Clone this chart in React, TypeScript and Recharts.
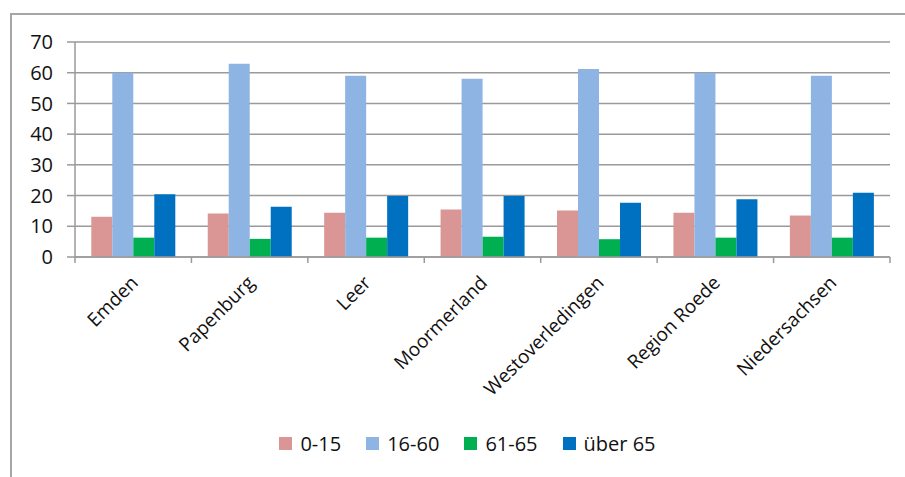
import React from "react";
import { BarChart, Bar, XAxis, YAxis, CartesianGrid, Legend } from "recharts";

// Anteil der Altersgruppen in Prozent
const regions = [
  "Emden",
  "Papenburg",
  "Leer",
  "Moormerland",
  "Westoverledingen",
  "Region Roede",
  "Niedersachsen",
];
const age0to15 = [13.1, 14.2, 14.4, 15.5, 15.1, 14.4, 13.5];
const age16to60 = [60, 62.9, 59, 58, 61.2, 60, 59];
const age61to65 = [6.3, 5.9, 6.3, 6.6, 5.8, 6.3, 6.3];
const ageOver65 = [20.4, 16.4, 19.9, 19.9, 17.7, 18.8, 20.9];
const yTicks = [0, 10, 20, 30, 40, 50, 60, 70];

const series = [
  { key: "a", name: "0-15", color: "#D99694", values: age0to15 },
  { key: "b", name: "16-60", color: "#8EB4E3", values: age16to60 },
  { key: "c", name: "61-65", color: "#00B050", values: age61to65 },
  { key: "d", name: "über 65", color: "#0070C0", values: ageOver65 },
];

const data = regions.map((name, i) => {
  const row: Record<string, string | number> = { name };
  series.forEach((s) => {
    row[s.key] = s.values[i];
  });
  return row;
});

const FONT = "'Open Sans', sans-serif";
const LINE = "#9a9a9a";

// Excel-style axis: tick marks between the categories, labels rotated
function CategoryTick(props: any) {
  const { x, y, payload, index } = props;
  const half = payload?.offset ?? 58.2;
  return (
    <g>
      <line x1={x - half} y1={y} x2={x - half} y2={y + 6} stroke={LINE} strokeWidth={1.5} />
      {index === regions.length - 1 && (
        <line x1={x + half} y1={y} x2={x + half} y2={y + 6} stroke={LINE} strokeWidth={1.5} />
      )}
      <text
        x={0}
        y={0}
        transform={`translate(${x + 6},${y + 27}) rotate(-45)`}
        textAnchor="end"
        fontSize={19}
        fontFamily={FONT}
        fill="#111"
      >
        {payload.value}
      </text>
    </g>
  );
}

function LegendContent() {
  return (
    <div
      style={{
        display: "flex",
        justifyContent: "center",
        alignItems: "center",
        gap: 25,
        fontFamily: FONT,
        fontSize: 20,
        color: "#111",
      }}
    >
      {series.map((s) => (
        <div key={s.key} style={{ display: "flex", alignItems: "center" }}>
          <span
            style={{
              display: "inline-block",
              width: 13,
              height: 13,
              background: s.color,
              marginRight: 8,
            }}
          />
          <span>{s.name}</span>
        </div>
      ))}
    </div>
  );
}

export default function App() {
  return (
    <div style={{ position: "absolute", left: 0, top: 0, width: 905, height: 477, background: "#fff" }}>
      <div
        style={{
          position: "absolute",
          left: 10,
          top: 13,
          width: 895,
          height: 464,
          borderTop: "2px solid #a6a6a6",
          borderLeft: "2px solid #a6a6a6",
          boxSizing: "border-box",
        }}
      />
      <div style={{ position: "absolute", left: 0, top: 0 }}>
        <BarChart
          width={905}
          height={477}
          data={data}
          margin={{ top: 42, right: 15, left: 0, bottom: 70 }}
          barCategoryGap="14%"
          barGap={0}
        >
          <CartesianGrid vertical={false} stroke={LINE} strokeWidth={1.5} />
          <XAxis
            dataKey="name"
            interval={0}
            height={150}
            tickSize={0}
            tickMargin={0}
            axisLine={{ stroke: LINE, strokeWidth: 1.5 }}
            tick={<CategoryTick />}
          />
          <YAxis
            width={75}
            domain={[0, 70]}
            ticks={yTicks}
            interval={0}
            tickSize={8}
            tickMargin={14}
            axisLine={{ stroke: LINE, strokeWidth: 1.5 }}
            tickLine={{ stroke: LINE, strokeWidth: 1.5 }}
            tick={{ fill: "#111", fontSize: 20, fontFamily: FONT }}
          />
          <Legend
            verticalAlign="middle"
            align="center"
            layout="horizontal"
            content={<LegendContent />}
            wrapperStyle={{ top: 430, left: 30, width: 875 }}
          />
          {series.map((s) => (
            <Bar
              key={s.key}
              dataKey={s.key}
              name={s.name}
              fill={s.color}
              isAnimationActive={false}
            />
          ))}
        </BarChart>
      </div>
    </div>
  );
}
